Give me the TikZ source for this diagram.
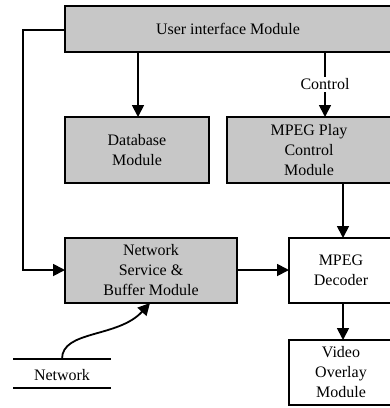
\documentclass[tikz,border=0pt]{standalone}
\usepackage{fontspec}
\setmainfont{Liberation Serif}
\usetikzlibrary{arrows.meta}
\begin{document}
\begin{tikzpicture}[x=1pt,y=-1pt,
  every node/.style={font=\fontsize{16}{20}\selectfont, align=center},
  module/.style={draw, line width=1.8pt, fill=black!22},
  plainmod/.style={draw, line width=1.8pt, fill=white},
  link/.style={line width=1.8pt, -{Triangle[length=12pt,width=12pt]}},
  wire/.style={line width=1.6pt}]
\useasboundingbox (0,0) rectangle (390,408);
\begin{scope}
\clip (0,0) rectangle (390,408);
% module boxes
\draw[module] (65,6) rectangle (392,52);
\node (ui) at (228,29) {User interface Module};
\draw[module] (65,117) rectangle (209,183);
\node (db) at (137,150) {Database\\Module};
\draw[module] (227,117) rectangle (392,183);
\node (mpc) at (309,150) {MPEG Play\\Control\\Module};
\draw[module] (65,238) rectangle (237,303);
\node (net) at (151,270) {Network\\Service \&\\Buffer Module};
\draw[plainmod] (289,238) rectangle (392,303);
\node (dec) at (341,270) {MPEG\\Decoder};
\draw[plainmod] (289,340) rectangle (392,405);
\node (vid) at (341,372) {Video\\Overlay\\Module};
\end{scope}
% anchor points on box edges
\coordinate (uiL) at (65,30);
\coordinate (uiB1) at (138,52);
\coordinate (uiB2) at (325,52);
\coordinate (dbT) at (138,117);
\coordinate (mpcT) at (325,117);
\coordinate (mpcB) at (343,183);
\coordinate (decT) at (343,238);
\coordinate (decB) at (343,303);
\coordinate (vidT) at (343,340);
\coordinate (netL) at (65,270);
\coordinate (netR) at (237,270);
\coordinate (decL) at (289,270);
\coordinate (netB) at (150,303);
\coordinate (bend1) at (23,30);
\coordinate (bend2) at (23,270);
% connectors
\draw[link] (uiB1) -- (dbT);
\draw[link] (uiB2) -- node[fill=white, inner sep=2pt] (ctl) {Control} (mpcT);
\draw[link] (mpcB) -- (decT);
\draw[link] (decB) -- (vidT);
\draw[link] (netR) -- (decL);
\draw[link] (uiL) -- (bend1) -- (bend2) -- (netL);
% network medium
\coordinate (nwA) at (13,359);
\coordinate (nwB) at (111,359);
\coordinate (nwC) at (13,388);
\coordinate (nwD) at (111,388);
\coordinate (nwS) at (62,359);
\draw[wire] (nwA) -- (nwB);
\draw[wire] (nwC) -- (nwD);
\node (nw) at (62,375) {Network};
\draw[link] (nwS) .. controls (62,330) and (118,338) .. (netB);
\end{tikzpicture}
\end{document}
